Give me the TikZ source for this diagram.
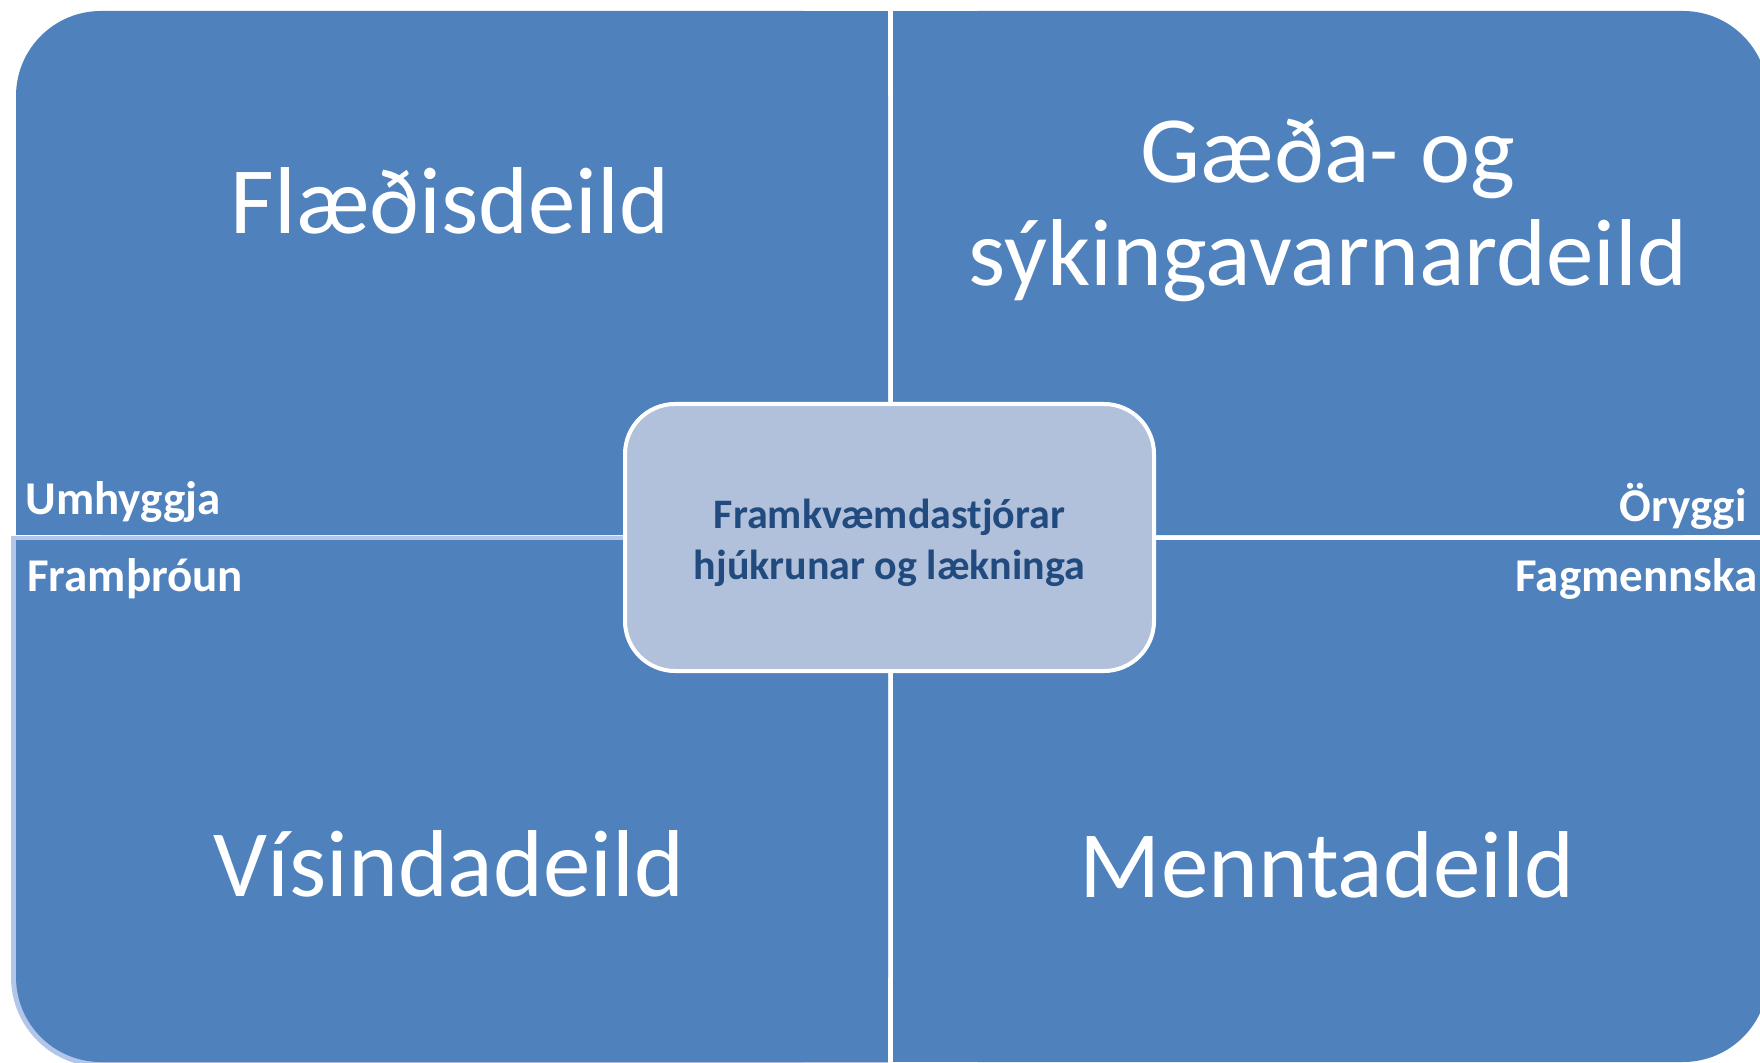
\documentclass[tikz,border=0pt]{standalone}
\usepackage{fontspec}
\setmainfont{Carlito}
\definecolor{quadblue}{RGB}{79,129,189}
\definecolor{hubfill}{RGB}{177,193,220}
\definecolor{hubtext}{RGB}{33,74,126}
\definecolor{rimblue}{RGB}{178,198,234}
\newcommand{\rr}{42.5pt}

\begin{document}
\begin{tikzpicture}[x=0.5pt, y=-0.5pt,
    quad/.style={fill=quadblue},
    title/.style={text=white, font=\fontsize{47.5}{51.5}\selectfont, align=center, inner sep=0pt},
    value/.style={text=white, font=\bfseries\fontsize{23.5}{28}\selectfont, inner sep=0pt},
    hub/.style={draw=white, line width=2pt, fill=hubfill, rounded corners=25pt, minimum width=264.5pt, minimum height=133.5pt, text=hubtext, font=\bfseries\fontsize{21}{25.5}\selectfont, align=center, inner sep=0pt}]
    \useasboundingbox (0,0) rectangle (1760,1063);
    \fill[white] (0,0) rectangle (1760,1063);

    % Top left
    \fill[quad, rounded corners=\rr] (16,11) rectangle (888,535);
    \fill[quad] (101,11) rectangle (888,535);
    \fill[quad] (16,96) rectangle (888,535);

    % Top right
    \fill[quad, rounded corners=\rr] (893,11) rectangle (1768,535);
    \fill[quad] (893,11) rectangle (1683,535);
    \fill[quad] (893,96) rectangle (1768,535);

    % Bottom left (light rim)
    \fill[rimblue, rounded corners=45pt] (11,536) rectangle (888,1067);
    \fill[rimblue] (101,536) rectangle (888,1067);
    \fill[rimblue] (11,536) rectangle (888,977);
    \fill[quad, rounded corners=\rr] (16,540) rectangle (888,1062);
    \fill[quad] (101,540) rectangle (888,1062);
    \fill[quad] (16,540) rectangle (888,977);

    % Bottom right
    \fill[quad, rounded corners=\rr] (893,540) rectangle (1768,1062);
    \fill[quad] (893,540) rectangle (1683,1062);
    \fill[quad] (893,540) rectangle (1768,977);

    % Titles
    \node[title, anchor=base] (quad-1-1) at (450,234) {Flæðisdeild};
    \node[title, anchor=base] (quad-1-2) at (1328,286) {Gæða- og\\sýkingavarnardeild};
    \node[title, anchor=base] (quad-2-1) at (449,896) {Vísindadeild};
    \node[title, anchor=base] (quad-2-2) at (1327,897) {Menntadeild};

    % Values
    \node[value, anchor=base west] (val-1) at (25,515) {Umhyggja};
    \node[value, anchor=base west] (val-2) at (27,591) {Framþróun};
    \node[value, anchor=base east] (val-3) at (1747,522) {Öryggi};
    \node[value, anchor=base east] (val-4) at (1758,591) {Fagmennska};

    % Centre
    \node[hub] (hub) at (889.5,537.5) {\rule{0pt}{20pt}Framkvæmdastjórar\\hjúkrunar og lækninga};

\end{tikzpicture}
\end{document}
